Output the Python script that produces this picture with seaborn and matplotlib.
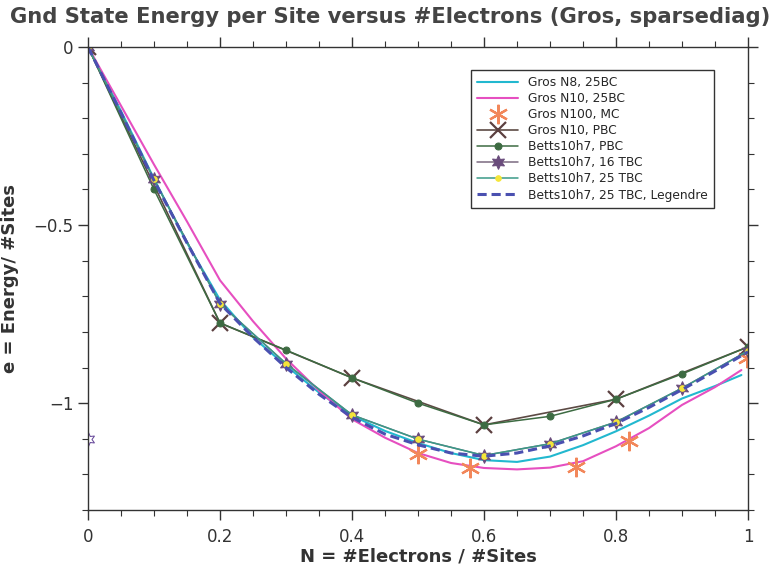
import matplotlib
matplotlib.use("Agg")
import matplotlib.pyplot as plt
import seaborn as sns
import numpy as np
import pandas as pd
from matplotlib.ticker import MultipleLocator

# ---------------- data ----------------
x_fine = [0, .05, .1, .15, .2, .25, .3, .35, .4, .45, .5, .55, .6, .65, .7, .75, .8, .85, .9, .95, .99]
gros_n8_25bc = [0, -0.18, -0.37, -0.55, -0.71, -0.815, -0.895, -0.97, -1.035, -1.078, -1.112, -1.14,
                -1.16, -1.165, -1.15, -1.118, -1.079, -1.035, -0.987, -0.952, -0.921]
gros_n10_25bc = [0, -0.165, -0.33, -0.49, -0.655, -0.77, -0.875, -0.965, -1.045, -1.097, -1.14, -1.168,
                 -1.182, -1.186, -1.181, -1.163, -1.121, -1.07, -1.005, -0.955, -0.907]

x_mc = [0.5, 0.579, 0.739, 0.82, 0.998]
gros_n100_mc = [-1.144, -1.183, -1.178, -1.107, -0.873]

x_n10 = [0, 0.2, 0.4, 0.6, 0.8, 1.0]
gros_n10_pbc = [0, -0.775, -0.929, -1.061, -0.989, -0.842]

x_betts = [0, .1, .2, .3, .4, .5, .6, .7, .8, .9, 1.0]
betts_pbc = [0, -0.40, -0.775, -0.851, -0.929, -1.0, -1.061, -1.037, -0.989, -0.918, -0.842]
betts_16tbc = [0, -0.372, -0.721, -0.889, -1.033, -1.101, -1.147, -1.114, -1.053, -0.958, -0.853]
betts_25tbc = [0, -0.372, -0.721, -0.889, -1.033, -1.101, -1.147, -1.114, -1.053, -0.958, -0.853]
x_stray = [0.0]
y_stray = [-1.101]

x_leg = [0, .05, .1, .15, .2, .25, .3, .35, .4, .45, .5, .55, .6, .65, .7, .75, .8, .85, .9, .95, 1.0]
betts_25tbc_legendre = [0, -0.185, -0.375, -0.55, -0.72, -0.815, -0.9, -0.975, -1.04, -1.087, -1.117,
                        -1.14, -1.149, -1.14, -1.12, -1.092, -1.057, -1.012, -0.962, -0.91, -0.856]

xticks = [0, 0.2, 0.4, 0.6, 0.8, 1]
xticklabels = ["0", "0.2", "0.4", "0.6", "0.8", "1"]
yticks = [0, -0.5, -1]
yticklabels = ["0", "\u22120.5", "\u22121"]

# ---------------- style ----------------
sns.set_style("ticks")
plt.rcParams["font.family"] = ["DejaVu Sans"]

fig = plt.figure(figsize=(7.8, 5.67), dpi=100)
ax = fig.add_axes([88/780, 1-510/567, (748-88)/780, (510-47)/567])

kw = dict(ax=ax, estimator=None, sort=False)
sns.lineplot(x=x_fine, y=gros_n8_25bc, color="#22b8cf", lw=1.5, label="Gros N8, 25BC", **kw)
sns.lineplot(x=x_fine, y=gros_n10_25bc, color="#e64fc0", lw=1.5, label="Gros N10, 25BC", **kw)
sns.lineplot(x=x_mc, y=gros_n100_mc, color="#f2875a", lw=0, marker=(6, 2, 0), markersize=14,
             markeredgewidth=1.6, markeredgecolor="#f2875a", label="Gros N100, MC", **kw)
sns.lineplot(x=x_n10, y=gros_n10_pbc, color="#5c4a44", lw=1.2, marker="x", markersize=11,
             markeredgewidth=1.6, markeredgecolor="#5c4040", label="Gros N10, PBC", **kw)
sns.lineplot(x=x_betts, y=betts_pbc, color="#3d6b42", lw=1.1, marker="o", markersize=5,
             markeredgecolor="#3d6b42", label="Betts10h7, PBC", **kw)
sns.lineplot(x=x_betts, y=betts_16tbc, color="#7a6a80", lw=1.1, marker=(6, 1, 0), markersize=10,
             markerfacecolor="#6a4c7c", markeredgecolor="#6a4c7c", label="Betts10h7, 16 TBC", **kw)
sns.lineplot(x=x_betts, y=betts_25tbc, color="#3a9a88", lw=1.1, marker="o", markersize=4,
             markerfacecolor="#f5e63a", markeredgecolor="#f5e63a", label="Betts10h7, 25 TBC", **kw)
sns.lineplot(x=x_leg, y=betts_25tbc_legendre, color="#4a50b0", lw=2.2, linestyle=(0, (3, 1.6)),
             label="Betts10h7, 25 TBC, Legendre", **kw)
sns.lineplot(x=x_stray, y=y_stray, color="#6a4c7c", lw=0, marker=(6, 1, 0), markersize=10,
             markerfacecolor="none", markeredgecolor="#6a4c9c", **kw)

ax.set_xlim(0, 1)
ax.set_ylim(-1.3, 0)
ax.set_xticks(xticks)
ax.set_xticklabels(xticklabels)
ax.set_yticks(yticks)
ax.set_yticklabels(yticklabels)
ax.xaxis.set_minor_locator(MultipleLocator(0.05))
ax.yaxis.set_minor_locator(MultipleLocator(0.1))
for s in ax.spines.values():
    s.set_visible(True)
    s.set_color("#333333")
    s.set_linewidth(1.0)
ax.tick_params(which="both", top=True, right=True, labelsize=12, colors="#333333")
ax.tick_params(which="major", length=7, width=1)
ax.tick_params(which="minor", length=4, width=0.8)
ax.tick_params(axis="x", pad=6)

ax.set_xlabel("N = #Electrons / #Sites", fontsize=13, fontweight="bold", color="#333333", labelpad=1)
ax.set_ylabel("e = Energy/ #Sites", fontsize=13, fontweight="bold", color="#333333", labelpad=10)
fig.suptitle("Gnd State Energy per Site versus #Electrons (Gros, sparsediag)", x=0.5, y=0.988,
             fontsize=15.2, fontweight="bold", color="#444444")

leg = ax.legend(loc="upper right", bbox_to_anchor=(714/780, 1-70/567), bbox_transform=fig.transFigure,
                fontsize=8.8, frameon=True, fancybox=False, framealpha=1, edgecolor="#333333",
                handlelength=3.4, borderpad=0.5, labelspacing=0.25, borderaxespad=0)
leg.get_frame().set_linewidth(1.0)

fig.savefig("out.png", dpi=100)
